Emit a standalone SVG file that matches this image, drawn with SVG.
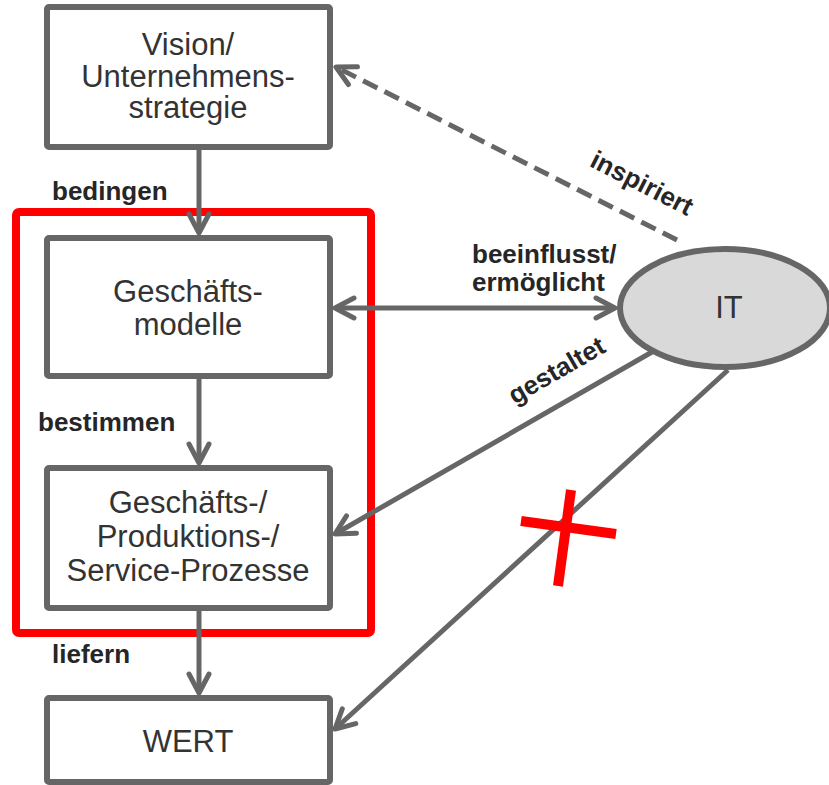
<svg xmlns="http://www.w3.org/2000/svg" width="829" height="785" viewBox="0 0 829 785">
  <style>
    .box { fill: #ffffff; stroke: #666666; stroke-width: 6; }
    .txt { font-family: "Liberation Sans", Arial, sans-serif; font-size: 31px; fill: #333333; text-anchor: middle; }
    .lbl { font-family: "Liberation Sans", Arial, sans-serif; font-size: 26px; font-weight: bold; fill: #262626; }
    .con { fill: none; stroke: #666666; stroke-width: 5; }
  </style>
  <defs>
    <marker id="ah" markerUnits="userSpaceOnUse" orient="auto-start-reverse" refX="0" refY="0" markerWidth="1" markerHeight="1" overflow="visible">
      <path d="M-19,-10 L0,0 L-19,10" fill="none" stroke="#666666" stroke-width="5" stroke-linejoin="round" stroke-linecap="round"/>
    </marker>
  </defs>

  <g id="vision">
    <rect class="box" x="47" y="7" width="283" height="140" rx="2"/>
    <text class="txt" x="188" y="55">Vision/</text>
    <text class="txt" x="188" y="87">Unternehmens-</text>
    <text class="txt" x="188" y="118">strategie</text>
  </g>

  <g id="geschaeftsmodelle">
    <rect class="box" x="47" y="238" width="283" height="138" rx="2"/>
    <text class="txt" x="188" y="302">Geschäfts-</text>
    <text class="txt" x="188" y="335">modelle</text>
  </g>

  <g id="prozesse">
    <rect class="box" x="47" y="468" width="283" height="140" rx="2"/>
    <text class="txt" x="188" y="513">Geschäfts-/</text>
    <text class="txt" x="188" y="547">Produktions-/</text>
    <text class="txt" x="188" y="581">Service-Prozesse</text>
  </g>

  <g id="wert">
    <rect class="box" x="47" y="698" width="283" height="84" rx="2"/>
    <text class="txt" x="188" y="752">WERT</text>
  </g>

  <g id="it">
    <ellipse cx="725" cy="308" rx="105" ry="59" fill="#d9d9d9" stroke="#666666" stroke-width="6"/>
    <text class="txt" x="729" y="318">IT</text>
  </g>

  <g id="focus">
    <rect x="16" y="212" width="355" height="421" rx="3" fill="none" stroke="#ff0000" stroke-width="8"/>
  </g>

  <g id="connectors">
    <path class="con" d="M199,147 L199,233" marker-end="url(#ah)"/>
    <path class="con" d="M199,376 L199,463" marker-end="url(#ah)"/>
    <path class="con" d="M199,608 L199,693" marker-end="url(#ah)"/>
    <path class="con" d="M335,308 L615,308" marker-start="url(#ah)" marker-end="url(#ah)"/>
    <path class="con" d="M677,240 L336,67" stroke-dasharray="16 8" marker-end="url(#ah)"/>
    <path class="con" d="M652,352 L335,534" marker-end="url(#ah)"/>
    <path class="con" d="M728,370 L335,729" marker-end="url(#ah)"/>
  </g>

  <g id="labels">
    <text class="lbl" x="52" y="200">bedingen</text>
    <text class="lbl" x="38" y="431">bestimmen</text>
    <text class="lbl" x="52" y="663">liefern</text>
    <text class="lbl" x="472" y="263">beeinflusst/</text>
    <text class="lbl" x="472" y="291">ermöglicht</text>
    <text class="lbl" x="0" y="0" text-anchor="middle" transform="translate(638,191) rotate(27)">inspiriert</text>
    <text class="lbl" x="0" y="0" text-anchor="middle" transform="translate(561,378) rotate(-30)">gestaltet</text>
  </g>

  <g id="cross">
    <line x1="571" y1="490" x2="558" y2="586" stroke="#ff0000" stroke-width="10"/>
    <line x1="521" y1="521" x2="616" y2="534" stroke="#ff0000" stroke-width="10"/>
  </g>
</svg>
